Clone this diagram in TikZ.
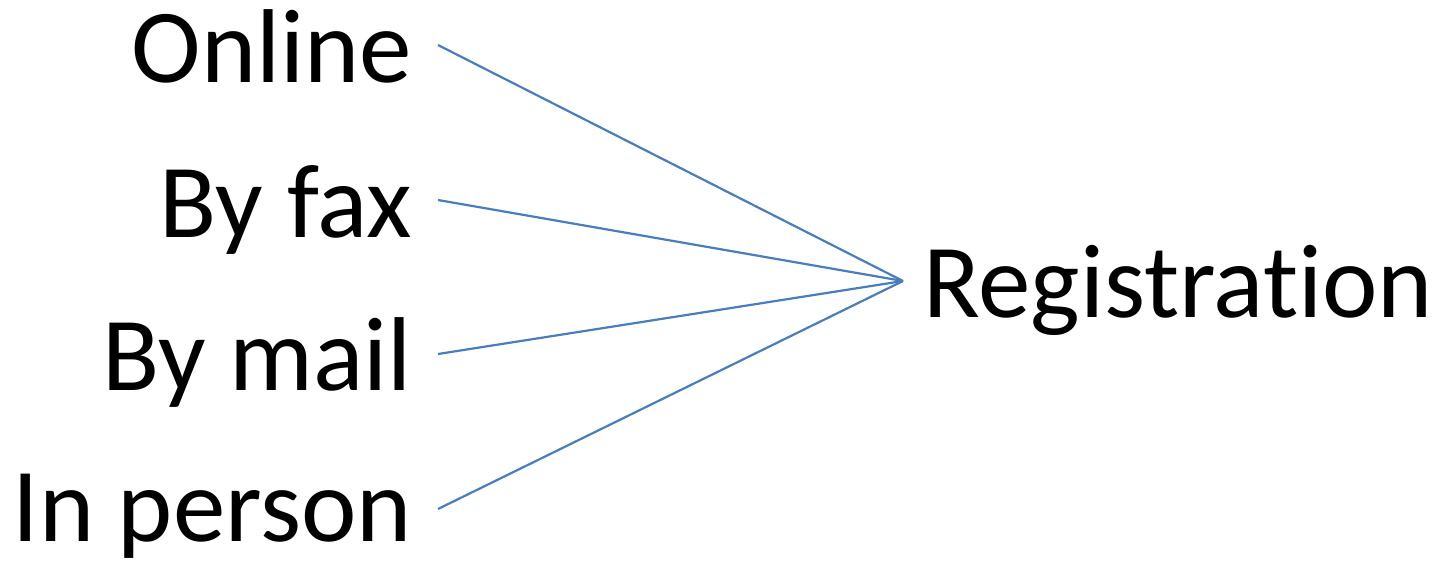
\documentclass[tikz,border=0pt]{standalone}
\usepackage{fontspec}
\setmainfont[Ligatures=NoCommon]{Carlito}
\definecolor{linkblue}{HTML}{4A7EBB}
\begin{document}
\begin{tikzpicture}[x=1pt,y=-1pt,
  lbl/.style={inner sep=0pt,font=\fontsize{105}{120}\selectfont},
  link/.style={draw=linkblue,line width=2.2pt}]
\useasboundingbox (0,0) rectangle (1448,563);
\node[lbl,anchor=base east] (online) at (412,82) {Online};
\node[lbl,anchor=base east] (fax) at (412,237) {By fax};
\node[lbl,anchor=base east] (mail) at (412,390) {By mail};
\node[lbl,anchor=base east] (person) at (412,541) {In person};
\node[lbl,anchor=base west] (reg) at (923,317) {Registration};
\coordinate (c1) at (438,45);
\coordinate (c2) at (438,200);
\coordinate (c3) at (438,354);
\coordinate (c4) at (438,509);
\coordinate (hub) at (903,281);
\draw[link] (c1) -- (hub);
\draw[link] (c2) -- (hub);
\draw[link] (c3) -- (hub);
\draw[link] (c4) -- (hub);
\end{tikzpicture}
\end{document}
